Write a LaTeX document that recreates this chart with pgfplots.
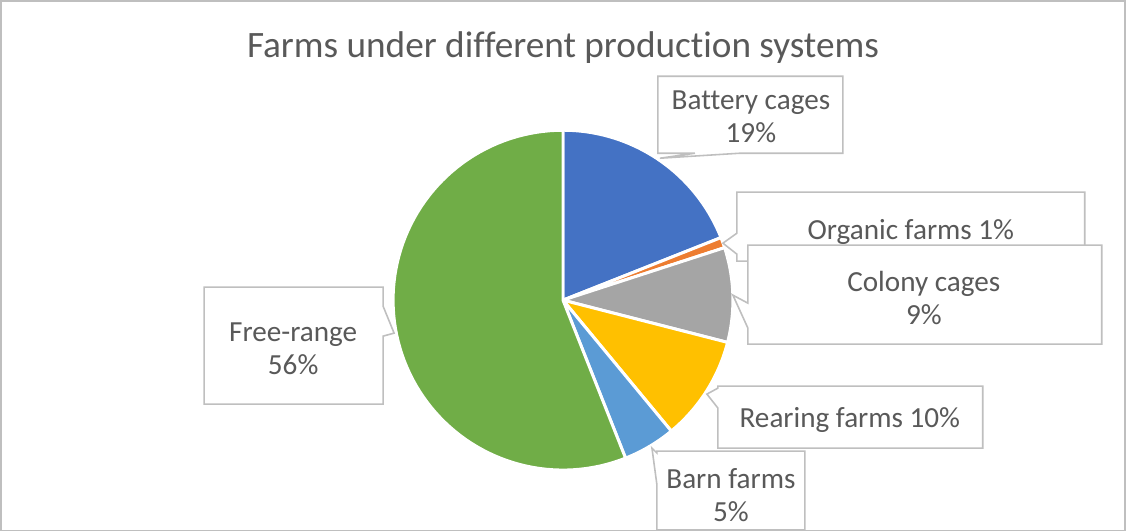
\documentclass[border=0pt]{standalone}
\usepackage{fontspec}
\setmainfont{Carlito}[Ligatures=NoCommon]
\usepackage{pgfplots}
\pgfplotsset{compat=1.18}

\definecolor{txt}{HTML}{595959}
\definecolor{frm}{HTML}{BFBFBF}
\definecolor{cBattery}{HTML}{4472C4}
\definecolor{cOrganic}{HTML}{ED7D31}
\definecolor{cColony}{HTML}{A5A5A5}
\definecolor{cRearing}{HTML}{FFC000}
\definecolor{cBarn}{HTML}{5B9BD5}
\definecolor{cFree}{HTML}{70AD47}

% one wedge; domain = cumulative percent range (0..100, clockwise from 12 o'clock)
\newcommand{\slice}[3]{%
  \addplot[fill=#3, draw=white, line width=0.85pt, domain=#1:#2, samples=90]
    ({563+170*cos(90-3.6*x)}, {302-170*sin(90-3.6*x)}) -- (axis cs:563,302) -- cycle;}

\tikzset{lbl/.style={text=txt, font=\fontsize{8.3}{9.4}\selectfont, align=center, inner sep=0pt},
         call/.style={draw=frm, fill=white, line width=0.45pt}}

\begin{document}
\begin{tikzpicture}
\begin{axis}[
  scale only axis, width=11.26cm, height=5.33cm,
  xmin=0, xmax=1126, ymin=0, ymax=533, y dir=reverse,
  axis lines=none, clip=false]

% chart frame
\draw[frm, line width=0.45pt] (axis cs:0.5,2.5) rectangle (axis cs:1125.5,532.5);

% percentages: 19, 1, 9, 10, 5, 56
\slice{0}{19}{cBattery}
\slice{19}{20}{cOrganic}
\slice{20}{29}{cColony}
\slice{29}{39}{cRearing}
\slice{39}{44}{cBarn}
\slice{44}{100}{cFree}

% callouts
\draw[call] (axis cs:658,78) -- (axis cs:843,78) -- (axis cs:843,155) -- (axis cs:740,155)
  -- (axis cs:660,160) -- (axis cs:695,155) -- (axis cs:658,155) -- cycle;
\draw[call] (axis cs:737,194) -- (axis cs:1085,194) -- (axis cs:1085,263) -- (axis cs:737,263)
  -- (axis cs:737,256) -- (axis cs:723,245) -- (axis cs:737,235) -- cycle;
\draw[call] (axis cs:748,247) -- (axis cs:1102,247) -- (axis cs:1102,346) -- (axis cs:748,346)
  -- (axis cs:748,330) -- (axis cs:733,297) -- (axis cs:748,305) -- cycle;
\draw[call] (axis cs:718,388) -- (axis cs:983,388) -- (axis cs:983,450) -- (axis cs:718,450)
  -- (axis cs:718,410) -- (axis cs:707,396) -- (axis cs:718,390) -- cycle;
\draw[call] (axis cs:657,453) -- (axis cs:805,453) -- (axis cs:805,532) -- (axis cs:657,532)
  -- (axis cs:657,487) -- (axis cs:652,450) -- (axis cs:657,455) -- cycle;
\draw[call] (axis cs:204,289) -- (axis cs:383,289) -- (axis cs:383,308) -- (axis cs:394,335)
  -- (axis cs:383,338) -- (axis cs:383,406) -- (axis cs:204,406) -- cycle;

% labels
\node[lbl] at (axis cs:751,119) {Battery cages\\19\%};
\node[lbl] at (axis cs:911,234) {Organic farms 1\%};
\node[lbl] at (axis cs:924,300) {Colony cages\\9\%};
\node[lbl] at (axis cs:850,422) {Rearing farms 10\%};
\node[lbl] at (axis cs:731,497) {Barn farms\\5\%};
\node[lbl] at (axis cs:293,351) {Free-range\\56\%};

% title
\node[text=txt, font=\fontsize{10.6}{12}\selectfont, inner sep=0pt] at (axis cs:563,49)
  {Farms under different production systems};
\end{axis}
\end{tikzpicture}
\end{document}
